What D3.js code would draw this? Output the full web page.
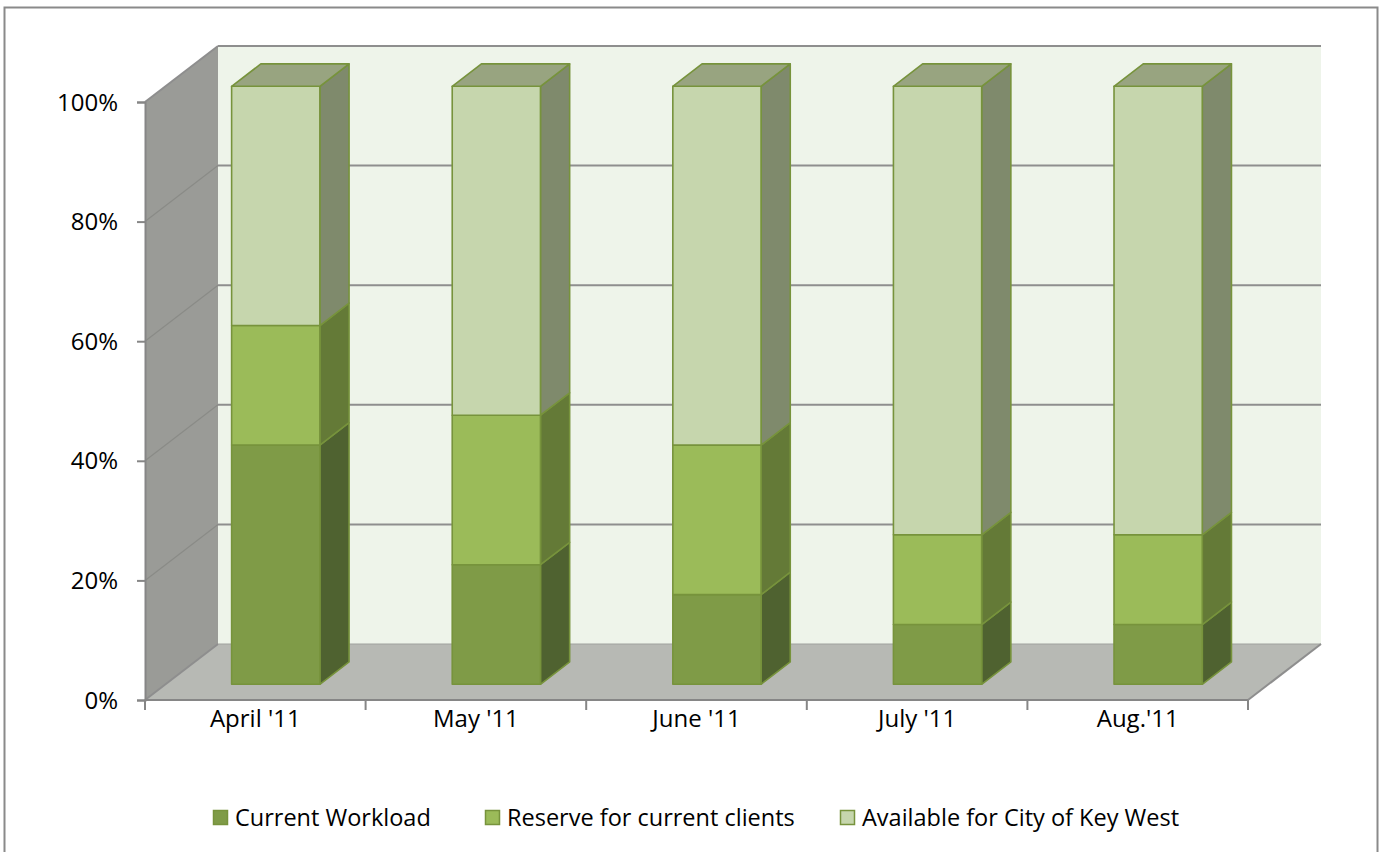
<!DOCTYPE html>
<html>
<head>
<meta charset="utf-8">
<script src="https://cdn.jsdelivr.net/npm/d3@7"></script>
<style>
  html, body { margin: 0; padding: 0; background: #fff; }
  svg { display: block; }
  text { font-family: "Open Sans", Lato, sans-serif; fill: #000; }
</style>
</head>
<body>
<svg id="chart" width="1381" height="852"></svg>
<script>
const categories = ["April '11", "May '11", "June '11", "July '11", "Aug.'11"];
const seriesNames = ["Current Workload", "Reserve for current clients", "Available for City of Key West"];
const currentWorkload = [0.40, 0.20, 0.15, 0.10, 0.10];
const reserveClients = [0.20, 0.25, 0.25, 0.15, 0.15];
const availableKeyWest = [0.40, 0.55, 0.60, 0.75, 0.75];
const yTicks = [0, 0.2, 0.4, 0.6, 0.8, 1.0];

const seriesValues = [currentWorkload, reserveClients, availableKeyWest];
const frontColors = ["#7f9b47", "#9bbb59", "#c6d6ad"];
const sideColors = ["#4f6230", "#647a37", "#7f8a6c"];
const topColor = "#98a480";
const edge = "#77933c";
const FONT = "'Open Sans', Lato, sans-serif";

const svg = d3.select("#chart");

// outer border
svg.append("rect").attr("x", 4.5).attr("y", 7.5).attr("width", 1373).attr("height", 900)
  .attr("fill", "none").attr("stroke", "#8a8a8a").attr("stroke-width", 2);

const X0 = 145, X1 = 1248;
const DX = 73, DY = -56;
const y = d3.scaleLinear().domain([0, 1]).range([700, 102]);
const x = d3.scaleBand().domain(categories).range([X0, X1]).paddingInner(0.6).paddingOuter(0.3);
const Z0 = 0.28, Z1 = 0.68;

const P = (xf, v, z) => [xf + z * DX, y(v) + z * DY];
const poly = pts => "M" + pts.map(p => p.join(",")).join("L") + "Z";

// back wall
svg.append("path").attr("d", poly([P(X0, 0, 1), P(X1, 0, 1), P(X1, 1, 1), P(X0, 1, 1)]))
  .attr("fill", "#eef4ea");
// left wall
svg.append("path").attr("d", poly([P(X0, 0, 0), P(X0, 0, 1), P(X0, 1, 1), P(X0, 1, 0)]))
  .attr("fill", "#9a9b97");
// floor
svg.append("path").attr("d", poly([P(X0, 0, 0), P(X1, 0, 0), P(X1, 0, 1), P(X0, 0, 1)]))
  .attr("fill", "#b7b9b4");

// gridlines
const grid = svg.append("g").attr("fill", "none").attr("stroke", "#8e8e8e").attr("stroke-width", 2);
yTicks.forEach(v => {
  if (v > 0) {
    grid.append("path").attr("d", "M" + P(X0, v, 1).join(",") + "L" + P(X1, v, 1).join(","));
  }
  grid.append("path").attr("d", "M" + P(X0, v, 0).join(",") + "L" + P(X0, v, 1).join(","))
    .attr("stroke", v === 0 || v === 1 ? "#8e8e8e" : "#8a8b87").attr("stroke-width", v === 0 || v === 1 ? 2 : 1.2);
});
grid.append("path").attr("d", "M" + P(X0, 0, 1).join(",") + "L" + P(X1, 0, 1).join(",")).attr("stroke", "#a0a29e").attr("stroke-width", 1);
grid.append("path").attr("d", "M" + P(X1, 0, 0).join(",") + "L" + P(X1, 0, 1).join(","));

// bars
const bars = svg.append("g").attr("stroke", edge).attr("stroke-width", 1.6).attr("stroke-linejoin", "round");
categories.forEach((c, i) => {
  const xl = x(c), xr = x(c) + x.bandwidth();
  let base = 0;
  seriesValues.forEach((vals, s) => {
    const top = base + vals[i];
    bars.append("path").attr("d", poly([P(xr, base, Z0), P(xr, base, Z1), P(xr, top, Z1), P(xr, top, Z0)]))
      .attr("fill", sideColors[s]);
    bars.append("path").attr("d", poly([P(xl, base, Z0), P(xr, base, Z0), P(xr, top, Z0), P(xl, top, Z0)]))
      .attr("fill", frontColors[s]);
    if (s === seriesValues.length - 1) {
      bars.append("path").attr("d", poly([P(xl, top, Z0), P(xr, top, Z0), P(xr, top, Z1), P(xl, top, Z1)]))
        .attr("fill", topColor);
    }
    base = top;
  });
});

// y axis
const yAxis = d3.axisLeft(y).tickValues(yTicks).tickFormat(d3.format(".0%")).tickSize(8).tickPadding(19);
const yg = svg.append("g").attr("transform", `translate(${X0},0)`).call(yAxis);
yg.attr("font-family", null).attr("font-size", null);
yg.select(".domain").attr("stroke", "#868686").attr("stroke-width", 2);
yg.selectAll(".tick line").attr("stroke", "#868686").attr("stroke-width", 2);
yg.selectAll(".tick text").attr("font-size", 24).attr("font-family", FONT).attr("fill", "#000").attr("dy", "0.34em");

// x axis
const xg = svg.append("g");
xg.append("line").attr("x1", X0).attr("x2", X1).attr("y1", y(0)).attr("y2", y(0))
  .attr("stroke", "#868686").attr("stroke-width", 2);
const boundaries = d3.range(categories.length + 1).map(k => X0 + k * x.step());
xg.selectAll(".xt").data(boundaries).join("line")
  .attr("x1", d => d).attr("x2", d => d).attr("y1", y(0)).attr("y2", y(0) + 10)
  .attr("stroke", "#868686").attr("stroke-width", 2);
xg.selectAll(".xl").data(categories).join("text")
  .attr("x", d => x(d) + x.bandwidth() / 2).attr("y", 727)
  .attr("text-anchor", "middle").attr("font-size", 24).text(d => d);

// legend
const legendX = [213, 485, 840];
const lg = svg.append("g");
seriesNames.forEach((n, s) => {
  lg.append("rect").attr("x", legendX[s] + 0.5).attr("y", 810.5).attr("width", 14).attr("height", 14)
    .attr("fill", frontColors[s]).attr("stroke", edge).attr("stroke-width", 1.5);
  lg.append("text").attr("x", legendX[s] + 22).attr("y", 826).attr("font-size", 23.5).text(n);
});
</script>
</body>
</html>
